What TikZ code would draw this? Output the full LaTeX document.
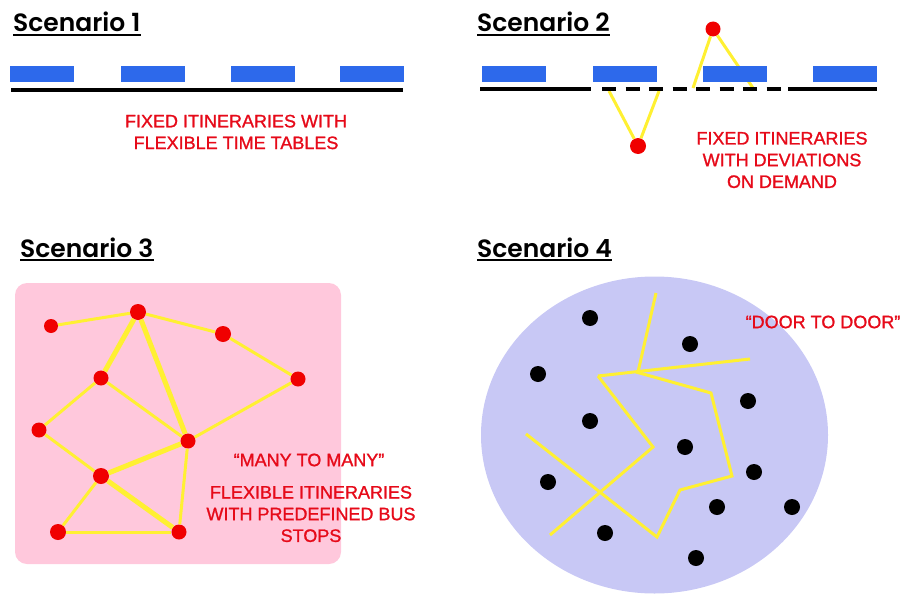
\documentclass[tikz,border=0pt]{standalone}
\usepackage{fontspec}
\usetikzlibrary{shapes.geometric}
\setmainfont{Liberation Sans}
\newfontfamily\titlefont{Poppins}[UprightFont=* SemiBold]
\newfontfamily\capfont{Liberation Sans}[FakeBold=1.2]
\definecolor{busblue}{RGB}{45,105,235}
\definecolor{txtred}{RGB}{230,10,25}
\definecolor{dotred}{RGB}{240,0,0}
\definecolor{lineyellow}{RGB}{255,240,50}
\definecolor{pinkbg}{RGB}{255,200,220}
\definecolor{lavbg}{RGB}{200,200,245}
\begin{document}
\begin{tikzpicture}[x=1pt,y=-1pt,
  title/.style={font=\titlefont\fontsize{25}{28}\selectfont, inner sep=0pt, anchor=base west},
  uline/.style={line width=1.6pt},
  caption/.style={font=\capfont\fontsize{18}{21.7}\selectfont, text=txtred, align=center, inner sep=0pt},
  bus/.style={rectangle, fill=busblue, minimum width=64pt, minimum height=16pt, inner sep=0pt},
  road/.style={line width=3.5pt, black},
  yl/.style={line width=3pt, lineyellow},
  ylthick/.style={line width=5pt, lineyellow},
  reddot/.style={circle, fill=dotred, inner sep=0pt, minimum size=#1},
  reddot/.default=15pt,
  blackdot/.style={circle, fill=black, inner sep=0pt, minimum size=16pt}
]
\useasboundingbox (0,0) rectangle (904,594);

% ---------------- Scenario 1 ----------------
\node[title] (t1) at (13,32) {Scenario 1};
\draw[uline] ([yshift=-3pt]t1.base west) -- ([yshift=-3pt]t1.base east);
\node[bus] (a1) at (42,74) {};
\node[bus] (a2) at (152.5,74) {};
\node[bus] (a3) at (263,74) {};
\node[bus] (a4) at (372,74) {};
\coordinate (r1s) at (11,90);
\coordinate (r1e) at (403,90);
\draw[road] (r1s) -- (r1e);
\node[caption] (c1) at (236,132) {FIXED ITINERARIES WITH\\FLEXIBLE TIME TABLES};

% ---------------- Scenario 2 ----------------
\node[title] (t2) at (477,32) {Scenario 2};
\draw[uline] ([yshift=-3pt]t2.base west) -- ([yshift=-3pt]t2.base east);
\node[reddot=16pt] (d1) at (638,146) {};
\node[reddot=15pt] (d2) at (713,29) {};
\coordinate (y1) at (609,91);
\coordinate (y2) at (659,91);
\coordinate (y3) at (693,88);
\coordinate (y4) at (753,88);
\draw[yl] (y1) -- (d1) -- (y2);
\draw[yl] (y3) -- (d2) -- (y4);
\node[bus] (b1) at (514,74) {};
\node[bus] (b2) at (624.5,74) {};
\node[bus] (b3) at (735,74) {};
\node[bus] (b4) at (844.5,74) {};
\coordinate (r2a) at (480,89);
\coordinate (r2b) at (591,89);
\coordinate (r2c) at (602,89);
\coordinate (r2d) at (781,89);
\coordinate (r2e) at (788,89);
\coordinate (r2f) at (877,89);
\draw[road] (r2a) -- (r2b);
\draw[road, dash pattern=on 14pt off 9.5pt] (r2c) -- (r2d);
\draw[road] (r2e) -- (r2f);
\node[caption] (c2) at (782,160) {FIXED ITINERARIES\\WITH DEVIATIONS\\ON DEMAND};

% ---------------- Scenario 3 ----------------
\node[title] (t3) at (20,257) {Scenario 3};
\draw[uline] ([yshift=-3pt]t3.base west) -- ([yshift=-3pt]t3.base east);
\node[fill=pinkbg, rounded corners=12pt, minimum width=326pt, minimum height=281pt, inner sep=0pt] (pink) at (178,423.5) {};
\node[reddot=14pt] (A) at (51,326) {};
\node[reddot=16pt] (B) at (138,312) {};
\node[reddot=16pt] (C) at (223,334) {};
\node[reddot=15pt] (D) at (298,379) {};
\node[reddot=15pt] (E) at (101,378) {};
\node[reddot=15pt] (F) at (39,430) {};
\node[reddot=15pt] (G) at (188,441) {};
\node[reddot=16pt] (H) at (101,476) {};
\node[reddot=16pt] (I) at (58,532) {};
\node[reddot=15pt] (J) at (179,532) {};
\draw[yl] (A) -- (B);
\draw[yl] (B) -- (C);
\draw[yl] (C) -- (D);
\draw[ylthick] (B) -- (E);
\draw[ylthick] (B) -- (G);
\draw[yl] (E) -- (G);
\draw[yl] (E) -- (F);
\draw[yl] (F) -- (H);
\draw[ylthick] (H) -- (G);
\draw[yl] (D) -- (G);
\draw[yl] (G) -- (J);
\draw[ylthick] (H) -- (J);
\draw[yl] (H) -- (I);
\draw[yl] (I) -- (J);
\node[caption] (c3a) at (309,460) {“MANY TO MANY”};
\node[caption] (c3b) at (311,514) {FLEXIBLE ITINERARIES\\WITH PREDEFINED BUS\\STOPS};

% ---------------- Scenario 4 ----------------
\node[title] (t4) at (477,257) {Scenario 4};
\draw[uline] ([yshift=-3pt]t4.base west) -- ([yshift=-3pt]t4.base east);
\node[ellipse, fill=lavbg, minimum width=347pt, minimum height=317pt, inner sep=0pt] (lav) at (654.5,435) {};
\coordinate (p1) at (656,293);
\coordinate (p2) at (638,372);
\coordinate (p3) at (598,376);
\coordinate (p4) at (750,359);
\coordinate (p5) at (653,447);
\coordinate (p6) at (550,535);
\coordinate (q1) at (636,372);
\coordinate (q2) at (711,393);
\coordinate (q3) at (732,476);
\coordinate (q4) at (680,490);
\coordinate (q5) at (657,537);
\coordinate (q6) at (526,434);
\draw[yl] (p1) -- (p2);
\draw[yl] (p3) -- (p4);
\draw[yl] (p3) -- (p5) -- (p6);
\draw[yl] (q1) -- (q2) -- (q3) -- (q4) -- (q5) -- (q6);
\node[blackdot] (k1) at (590,318) {};
\node[blackdot] (k2) at (690,344) {};
\node[blackdot] (k3) at (538,374) {};
\node[blackdot] (k4) at (748,401) {};
\node[blackdot] (k5) at (590,421) {};
\node[blackdot] (k6) at (685,447) {};
\node[blackdot] (k7) at (754,472) {};
\node[blackdot] (k8) at (548,482) {};
\node[blackdot] (k9) at (717,507) {};
\node[blackdot] (k10) at (792,507) {};
\node[blackdot] (k11) at (605,533) {};
\node[blackdot] (k12) at (696,558) {};
\node[caption] (c4) at (823,322) {“DOOR TO DOOR”};
\end{tikzpicture}
\end{document}
